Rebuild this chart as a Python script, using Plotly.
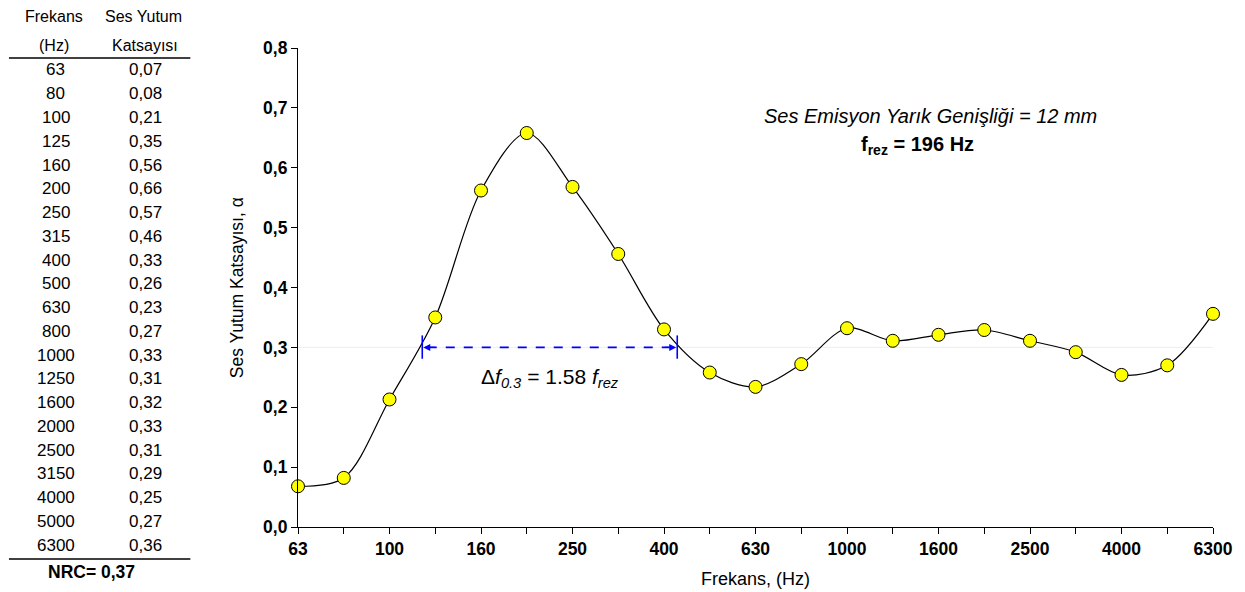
import math
import plotly.graph_objects as go

# ---------------- data ----------------
freq_labels = ["63", "80", "100", "125", "160", "200", "250", "315", "400", "500",
               "630", "800", "1000", "1250", "1600", "2000", "2500", "3150", "4000",
               "5000", "6300"]
alpha = [0.068, 0.082, 0.213, 0.350, 0.562, 0.658, 0.568, 0.456, 0.330, 0.258,
         0.234, 0.272, 0.332, 0.311, 0.321, 0.329, 0.311, 0.292, 0.254, 0.270, 0.356]
y_ticks = [0.0, 0.1, 0.2, 0.3, 0.4, 0.5, 0.6, 0.7, 0.8]
y_tick_text = ["0,0", "0,1", "0,2", "0,3", "0,4", "0,5", "0,6", "0,7", "0,8"]
nrc_text = "NRC= 0,37"
f_rez = 196.0
bw_factor = 1.58
f_low = 118.0          # lower 0.3-crossing frequency (Hz)
alpha_level = 0.3

# ---------------- helpers ----------------
FONT = "Arial, Liberation Sans, sans-serif"
W, H = 1245, 592
L, R, T, B = 298, 1216, 48, 527  # plot area in pixels

def px(xp):
    return (xp - L) / (R - L)

def py(yp):
    return (B - yp) / (B - T)

def band_index(f):
    return 3 * math.log2(f / 63.0)

def text_at(fig, xp, yp, text, size=16, **kw):
    fig.add_annotation(x=px(xp), y=py(yp), xref="paper", yref="paper",
                       xanchor="center", yanchor="middle", showarrow=False,
                       text=text, font=dict(family=FONT, size=size, color="black"), **kw)

idx = list(range(len(freq_labels)))
tick_text = [lab if i % 2 == 0 else "" for i, lab in enumerate(freq_labels)]

fig = go.Figure()

# faint reference line at 0.3
fig.add_shape(type="line", xref="x", yref="y", x0=0, x1=len(idx) - 1,
              y0=alpha_level, y1=alpha_level, line=dict(color="#eeeeee", width=1),
              layer="below")

fig.add_trace(go.Scatter(
    x=idx, y=alpha, mode="lines+markers",
    line=dict(color="black", width=1.2, shape="spline", smoothing=0.9),
    marker=dict(size=13, color="#ffff00", line=dict(color="black", width=1)),
    cliponaxis=False, showlegend=False, hoverinfo="skip",
))

# bandwidth arrow
f_high = f_low + bw_factor * f_rez
x_lo, x_hi = band_index(f_low), band_index(f_high)
blue = "#0000ff"
fig.add_shape(type="line", xref="x", yref="y", x0=x_lo + 0.12, x1=x_hi - 0.12,
              y0=alpha_level, y1=alpha_level, line=dict(color=blue, width=1.6, dash="dash"))
for xv in (x_lo, x_hi):
    fig.add_shape(type="line", xref="x", yref="y", x0=xv, x1=xv,
                  y0=alpha_level - 0.019, y1=alpha_level + 0.02,
                  line=dict(color=blue, width=1.6))
for xv, sgn in ((x_lo, 1), (x_hi, -1)):
    fig.add_annotation(x=xv, y=alpha_level, xref="x", yref="y",
                       ax=sgn * 14, ay=0, axref="pixel", ayref="pixel",
                       text="", showarrow=True, arrowhead=2, arrowsize=1,
                       arrowwidth=1.4, arrowcolor=blue, standoff=1)

fig.add_annotation(x=(x_lo + x_hi) / 2, y=alpha_level, xref="x", yref="y",
                   yshift=-31, showarrow=False, xanchor="center", yanchor="middle",
                   text="Δ<i>f</i><sub><i>0.3</i></sub> = 1.58 <i>f</i><sub><i>rez</i></sub>",
                   font=dict(family=FONT, size=21, color="black"))

# description texts
text_at(fig, 933, 116, "<i>Ses Emisyon Yarık Genişliği = 12 mm</i>", size=20)
text_at(fig, 920, 145, "<b>f<sub>rez</sub> = 196 Hz</b>", size=20)

# axis titles
text_at(fig, 237, 288, "Ses Yutum Katsayısı, α", size=17.5, textangle=-90)
text_at(fig, 757, 579, "Frekans, (Hz)", size=18)

# ---------------- table on the left ----------------
c1, c2 = 55, 145
for txt, xx, yy in (("Frekans", 53, 16), ("Ses Yutum", 143, 16),
                    ("(Hz)", 53, 45), ("Katsayısı", 144, 45)):
    text_at(fig, xx, yy, txt, size=16)
fig.add_shape(type="line", xref="paper", yref="paper", x0=px(8), x1=px(190),
              y0=py(58), y1=py(58), line=dict(color="black", width=1.5))
row0, dy = 70, 23.75
for i, (lab, v) in enumerate(zip(freq_labels, alpha)):
    yy = row0 + dy * i
    text_at(fig, c1, yy, lab, size=17)
    text_at(fig, c2, yy, f"{v:.2f}".replace(".", ","), size=17)
fig.add_shape(type="line", xref="paper", yref="paper", x0=px(8), x1=px(190),
              y0=py(559), y1=py(559), line=dict(color="black", width=1.5))
text_at(fig, 91, 572, f"<b>{nrc_text}</b>", size=17.5)

fig.update_layout(
    width=W, height=H,
    margin=dict(l=L, r=W - R, t=T, b=H - B, pad=0),
    plot_bgcolor="white", paper_bgcolor="white",
    font=dict(family=FONT, color="black"),
    xaxis=dict(range=[0, len(idx) - 1], tickvals=idx, ticktext=tick_text,
               showgrid=False, zeroline=False, showline=True, linecolor="black",
               linewidth=1.2, ticks="outside", ticklen=6, tickcolor="black",
               tickfont=dict(family=FONT, size=17.5, color="black", weight="bold"),
               tickangle=0),
    yaxis=dict(range=[0, 0.8], tickvals=y_ticks, ticktext=y_tick_text,
               showgrid=False, zeroline=False, showline=True, linecolor="black",
               linewidth=1.2, ticks="outside", ticklen=6, tickcolor="black",
               tickfont=dict(family=FONT, size=17.5, color="black", weight="bold")),
)

fig.write_html("out.html")
